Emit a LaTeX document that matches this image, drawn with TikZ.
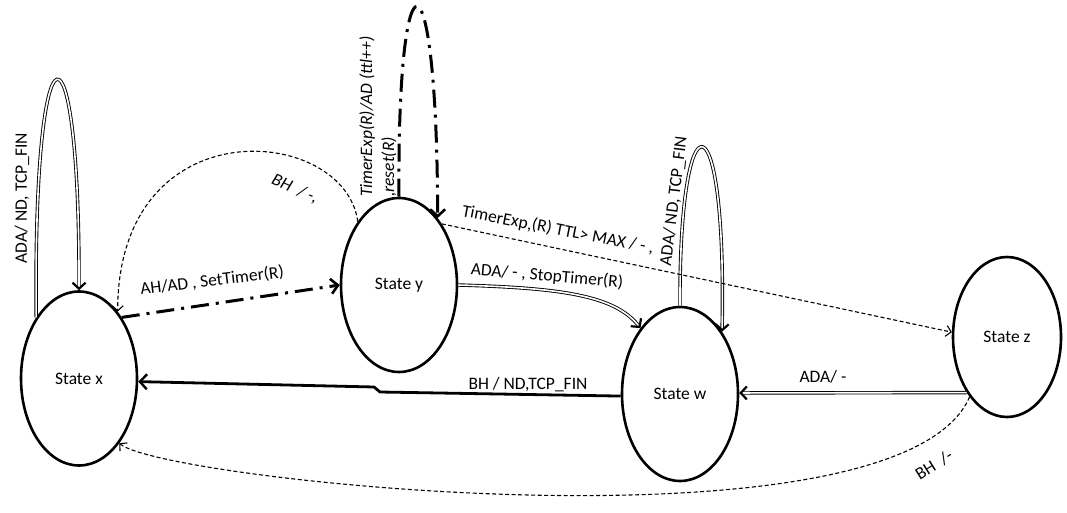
\documentclass[tikz,border=0pt]{standalone}
\usepackage{fontspec}
\setmainfont{Carlito}
\usetikzlibrary{shapes.geometric,arrows.meta}
\begin{document}
\begin{tikzpicture}[x=1pt,y=-1pt,
  font=\fontsize{17.5}{22}\selectfont,
  state/.style={draw, line width=2.6pt, ellipse, inner sep=0pt,
    minimum width=116pt, minimum height=174pt},
  zstate/.style={state, minimum width=108pt, minimum height=160pt},
  dbl/.style={double, double distance=1.6pt, line width=0.9pt,
    -{Straight Barb[length=6pt,width=13pt,line width=2.2pt]}},
  dashdot/.style={line width=3pt, dash pattern=on 18pt off 7pt on 3pt off 7pt,
    -{Straight Barb[length=7pt,width=15pt,line width=2.6pt]}},
  thindash/.style={line width=1.1pt, dash pattern=on 4pt off 2.5pt,
    -{Straight Barb[length=5pt,width=11pt,line width=1.1pt]}},
  solidthick/.style={line width=2.8pt,
    -{Straight Barb[length=7pt,width=15pt,line width=2.4pt]}},
  lbl/.style={inner sep=0pt},
  ilbl/.style={inner sep=0pt, font=\fontsize{17.5}{22}\selectfont\itshape}
]
\useasboundingbox (0,0) rectangle (1067,513);

% states
\node[state]  (x) at (79,378.5) {State x};
\node[state]  (y) at (399,285)  {State y};
\node[state]  (w) at (680,394)  {State w};
\node[zstate] (z) at (1007,337) {State z};

% self loops
\draw[dbl] (x.125) .. controls (33,5) and (80,5) .. (x.north);
\node[lbl, rotate=90] (lxx) at (22,198) {ADA/ ND, TCP\_FIN};

\draw[dashdot] (y.north) .. controls (397,-60) and (437,-60) .. (y.60);
\node[ilbl, rotate=90, anchor=west, align=left] (lyy) at (378,197)
  {TimerExp(R)/AD (ttl++)\\,reset(R)};

\draw[dbl] (w.north) .. controls (679,90) and (727,90) .. (w.56);
\node[lbl, rotate=83] (lww) at (674,201) {ADA/ ND, TCP\_FIN};

% transitions
\draw[dashdot] (x.55) -- (y.west);
\node[lbl, rotate=7] (lxy) at (212,281) {AH/AD , SetTimer(R)};

\draw[thindash] (y.123) .. controls (345,125) and (118,105) .. (x.60);
\node[ilbl, rotate=-24] (lyx) at (295,189) {BH \ / -,};

\draw[thindash] (y.55) -- (z.175);
\node[lbl, rotate=-11] (lyz) at (558,230) {TimerExp,(R) TTL> MAX / - ,};

\draw[dbl] (y.east) .. controls (560,288) and (615,295) .. (w.121);
\node[lbl, rotate=-5] (lyw) at (547,276) {ADA/ - , StopTimer(R)};

\draw[dbl] (z.234) -- (w.1);
\node[lbl] (lzw) at (823,377) {ADA/ -};

\coordinate (k1) at (380,392);
\coordinate (k2) at (374,387);
\draw[solidthick] (w.182) -- (k1) -- (k2) -- (x.-3);
\node[lbl] (lwx) at (528,385) {BH / ND,TCP\_FIN};

\draw[thindash] (z.238) .. controls (900,560) and (160,480) .. (x.302);
\node[lbl, rotate=32] (lzx) at (934,465) {BH \ /-};
\end{tikzpicture}
\end{document}
